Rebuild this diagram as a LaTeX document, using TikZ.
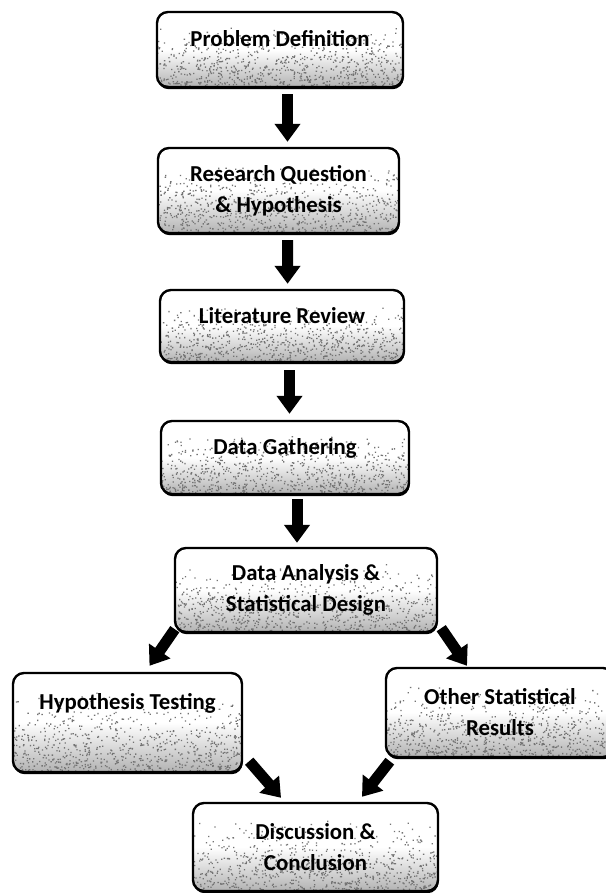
\documentclass[tikz,border=0pt]{standalone}
\usepackage{fontspec}
\setmainfont{Carlito}
\usepackage{tikz}
\usetikzlibrary{arrows.meta,shadows,calc}

\tikzset{
	speckle/.style={path picture={
		\fill[black!55, sharp corners] let \p1=(path picture bounding box.south west), \p2=(path picture bounding box.north east) in
			foreach \k in {1,...,#1}{({\x1+rnd*(\x2-\x1)},{\y1+0.8*(\y2-\y1)*(1-sqrt(rnd))}) rectangle ++(1.3,1.3)};
		}},
	stage/.style={draw=black, line width=2.4pt, rounded corners=11pt,
		top color=white, bottom color=black!30, middle color=white,
		drop shadow={shadow xshift=0.6pt, shadow yshift=-2.2pt, fill=black, opacity=1},
		speckle=750, font=\bfseries\fontsize{22.8}{31}\selectfont, align=center, inner sep=0pt},
	oneline/.style={text height=16pt, text depth=#1},
	fatarrow/.style={line width=11pt, -{Triangle[width=25pt,length=18pt]}},
}
\pgfmathsetseed{17}

\begin{document}
\begin{tikzpicture}[x=1pt,y=1pt]
	\useasboundingbox (0,0) rectangle (605,893);
	\node[stage, oneline=21pt, minimum width=246pt, minimum height=75pt] (prob) at (280,843.5) {Problem Definition};
	\node[stage, minimum width=241pt, minimum height=85pt] (rq) at (278.5,702.5) {Research Question\\\& Hypothesis};
	\node[stage, oneline=21pt, minimum width=244pt, minimum height=72pt] (lit) at (282,567) {Literature Review};
	\node[stage, oneline=21pt, minimum width=248pt, minimum height=73pt] (gather) at (285,435.5) {Data Gathering};
	\node[stage, minimum width=262pt, minimum height=84pt] (analysis) at (306,303) {Data Analysis \&\\Statistical Design};
	\node[stage, oneline=41pt, minimum width=229pt, minimum height=99pt] (htest) at (127.5,170.5) {Hypothesis Testing};
	\node[stage, minimum width=228pt, minimum height=89pt] (other) at (500,180.5) {Other Statistical\\Results};
	\node[stage, minimum width=245pt, minimum height=88pt] (concl) at (315.5,46) {Discussion \&\\Conclusion};

	\draw[fatarrow, shorten <=6pt, shorten >=5pt] ([xshift=7.5pt]prob.south) -- ([xshift=9pt]rq.north);
	\draw[fatarrow, shorten <=6pt, shorten >=5pt] ([xshift=9pt]rq.south) -- ([xshift=5.6pt]lit.north);
	\draw[fatarrow, shorten <=7pt, shorten >=6pt] ([xshift=7.5pt]lit.south) -- ([xshift=4.5pt]gather.north);
	\draw[fatarrow, shorten <=4pt, shorten >=4pt] ([xshift=12pt]gather.south) -- ([xshift=-9pt]analysis.north);
	\draw[fatarrow] ([shift={(1pt,4pt)}]analysis.south west) -- ([shift={(22pt,6pt)}]htest.north);
	\draw[fatarrow] ([shift={(3pt,5pt)}]analysis.south east) -- ([shift={(-33pt,1pt)}]other.north);
	\draw[fatarrow] ([shift={(6pt,12pt)}]htest.south east) -- ([shift={(-34.5pt,4pt)}]concl.north);
	\draw[fatarrow] ([shift={(5pt,-3pt)}]other.south west) -- ([shift={(46.5pt,5pt)}]concl.north);
\end{tikzpicture}
\end{document}
